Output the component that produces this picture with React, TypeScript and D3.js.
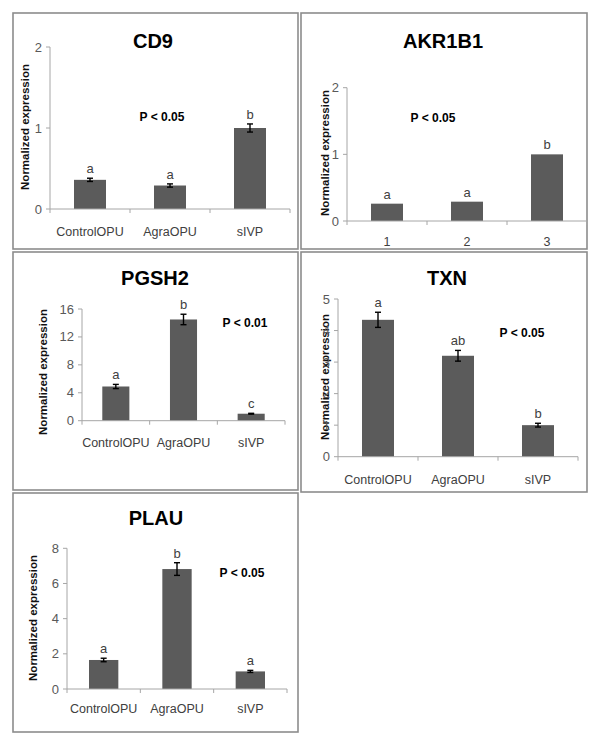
import React from "react";
import * as d3 from "d3";

// ---- data ----
const categories = ["ControlOPU", "AgraOPU", "sIVP"];
const akrCategories = ["1", "2", "3"];

const cd9Values = [0.36, 0.29, 1.0];
const cd9Errors = [0.02, 0.02, 0.05];
const cd9Letters = ["a", "a", "b"];
const cd9Ticks = [0, 1, 2];

const akr1b1Values = [0.26, 0.29, 1.0];
const akr1b1Letters = ["a", "a", "b"];
const akr1b1Ticks = [0, 1, 2];

const pgsh2Values = [4.9, 14.5, 1.0];
const pgsh2Errors = [0.3, 0.75, 0.06];
const pgsh2Letters = ["a", "b", "c"];
const pgsh2Ticks = [0, 4, 8, 12, 16];

const txnValues = [4.34, 3.2, 1.0];
const txnErrors = [0.24, 0.17, 0.06];
const txnLetters = ["a", "ab", "b"];
const txnTicks = [0, 1, 2, 3, 4, 5];

const plauValues = [1.65, 6.82, 1.0];
const plauErrors = [0.1, 0.36, 0.06];
const plauLetters = ["a", "b", "a"];
const plauTicks = [0, 2, 4, 6, 8];

const yLabel = "Normalized expression";

type PanelProps = {
  title: string;
  pText: string;
  cats: string[];
  values: number[];
  errors?: number[];
  letters: string[];
  ticks: number[];
  box: [number, number, number, number];
  plot: { x0: number; x1: number; yTop: number; yBottom: number };
  titlePos: [number, number];
  yLabPos: [number, number];
  pPos: [number, number];
  xLabY: number;
};

const FONT = "'Liberation Sans', Arial, sans-serif";

function Panel(p: PanelProps) {
  const max = p.ticks[p.ticks.length - 1];
  const y = d3.scaleLinear().domain([0, max]).range([p.plot.yBottom, p.plot.yTop]);
  const x = d3
    .scaleBand<string>()
    .domain(p.cats)
    .range([p.plot.x0, p.plot.x1])
    .paddingInner(0.6)
    .paddingOuter(0.3);
  const step = x.step();
  const boundaries = d3.range(p.cats.length + 1).map((i) => p.plot.x0 + i * step);
  const [bx0, by0, bx1, by1] = p.box;
  return (
    <g>
      <rect x={bx0} y={by0} width={bx1 - bx0} height={by1 - by0} fill="#fff" stroke="#8c8c8c" strokeWidth={1.6} />
      <text x={p.titlePos[0]} y={p.titlePos[1]} textAnchor="middle" fontFamily={FONT} fontWeight="bold" fontSize={20} fill="#000">
        {p.title}
      </text>
      <text
        transform={`translate(${p.yLabPos[0]},${p.yLabPos[1]}) rotate(-90)`}
        textAnchor="middle"
        dominantBaseline="central"
        fontFamily={FONT}
        fontWeight="bold"
        fontSize={11.5}
        fill="#111"
      >
        {yLabel}
      </text>
      {/* y axis */}
      <line x1={p.plot.x0} x2={p.plot.x0} y1={y(max)} y2={y(0)} stroke="#a6a6a6" strokeWidth={1} />
      {p.ticks.map((t) => (
        <g key={t}>
          <line x1={p.plot.x0 - 4} x2={p.plot.x0} y1={y(t)} y2={y(t)} stroke="#a6a6a6" />
          <text x={p.plot.x0 - 8} y={y(t)} textAnchor="end" dominantBaseline="central" fontFamily={FONT} fontSize={13} fill="#595959">
            {t}
          </text>
        </g>
      ))}
      {/* bars */}
      {p.values.map((v, i) => (
        <rect key={i} x={x(p.cats[i])} y={y(v)} width={x.bandwidth()} height={y(0) - y(v)} fill="#5b5b5b" />
      ))}
      {/* x axis */}
      <line x1={p.plot.x0} x2={p.plot.x1} y1={y(0)} y2={y(0)} stroke="#a6a6a6" strokeWidth={1} />
      {boundaries.map((bx, i) => (
        <line key={i} x1={bx} x2={bx} y1={y(0)} y2={y(0) + 4} stroke="#a6a6a6" />
      ))}
      {p.cats.map((c) => (
        <text key={c} x={(x(c) as number) + x.bandwidth() / 2} y={p.xLabY} textAnchor="middle" fontFamily={FONT} fontSize={12.5} fill="#404040">
          {c}
        </text>
      ))}
      {/* error bars */}
      {p.errors &&
        p.values.map((v, i) => {
          const cx = (x(p.cats[i]) as number) + x.bandwidth() / 2;
          const e = p.errors![i];
          return (
            <g key={i} stroke="#000" strokeWidth={1.4}>
              <line x1={cx} x2={cx} y1={y(v + e)} y2={y(v - e)} />
              <line x1={cx - 3} x2={cx + 3} y1={y(v + e)} y2={y(v + e)} />
              <line x1={cx - 3} x2={cx + 3} y1={y(v - e)} y2={y(v - e)} />
            </g>
          );
        })}
      {/* letters */}
      {p.values.map((v, i) => {
        const cx = (x(p.cats[i]) as number) + x.bandwidth() / 2;
        const top = v + (p.errors ? p.errors[i] : 0);
        return (
          <text key={i} x={cx} y={y(top) - 5} textAnchor="middle" fontFamily={FONT} fontSize={13} fill="#404040">
            {p.letters[i]}
          </text>
        );
      })}
      <text x={p.pPos[0]} y={p.pPos[1]} textAnchor="middle" dominantBaseline="central" fontFamily={FONT} fontWeight="bold" fontSize={12} fill="#000">
        {p.pText}
      </text>
    </g>
  );
}

export default function App() {
  return (
    <svg width={600} height={744} style={{ position: "absolute", left: 0, top: 0, background: "#fff" }}>
      <rect width={600} height={744} fill="#fff" />
      <Panel
        title="CD9"
        pText="P < 0.05"
        cats={categories}
        values={cd9Values}
        errors={cd9Errors}
        letters={cd9Letters}
        ticks={cd9Ticks}
        box={[13, 13, 298, 249]}
        plot={{ x0: 50, x1: 290, yTop: 47, yBottom: 209 }}
        titlePos={[153, 48]}
        yLabPos={[25, 127]}
        pPos={[162, 117]}
        xLabY={236}
      />
      <Panel
        title="AKR1B1"
        pText="P < 0.05"
        cats={akrCategories}
        values={akr1b1Values}
        letters={akr1b1Letters}
        ticks={akr1b1Ticks}
        box={[301, 13, 587, 249]}
        plot={{ x0: 347, x1: 587, yTop: 87.7, yBottom: 221 }}
        titlePos={[443, 48]}
        yLabPos={[325, 153]}
        pPos={[433, 118]}
        xLabY={246}
      />
      <Panel
        title="PGSH2"
        pText="P < 0.01"
        cats={categories}
        values={pgsh2Values}
        errors={pgsh2Errors}
        letters={pgsh2Letters}
        ticks={pgsh2Ticks}
        box={[13, 252, 298, 490]}
        plot={{ x0: 82, x1: 285, yTop: 309, yBottom: 420.7 }}
        titlePos={[155, 285]}
        yLabPos={[43, 372]}
        pPos={[245, 323]}
        xLabY={447}
      />
      <Panel
        title="TXN"
        pText="P < 0.05"
        cats={categories}
        values={txnValues}
        errors={txnErrors}
        letters={txnLetters}
        ticks={txnTicks}
        box={[301, 252, 587, 492]}
        plot={{ x0: 338, x1: 578, yTop: 299, yBottom: 456.7 }}
        titlePos={[447, 285]}
        yLabPos={[325, 377]}
        pPos={[522, 333]}
        xLabY={484}
      />
      <Panel
        title="PLAU"
        pText="P < 0.05"
        cats={categories}
        values={plauValues}
        errors={plauErrors}
        letters={plauLetters}
        ticks={plauTicks}
        box={[13, 493, 298, 732]}
        plot={{ x0: 67, x1: 287, yTop: 548.3, yBottom: 689 }}
        titlePos={[156, 525]}
        yLabPos={[33, 618]}
        pPos={[242, 573]}
        xLabY={713}
      />
    </svg>
  );
}
